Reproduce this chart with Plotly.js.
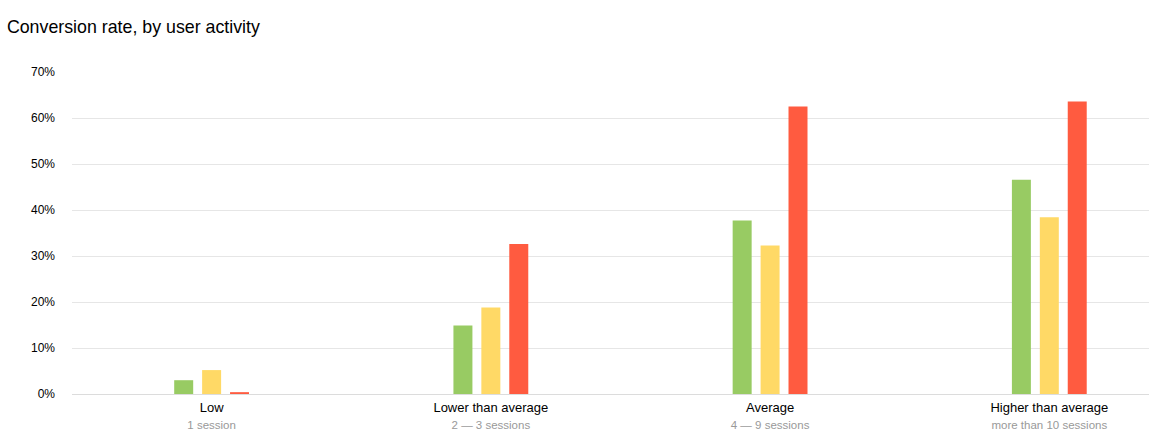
<!DOCTYPE html>
<html>
<head>
<meta charset="utf-8">
<script src="https://cdn.plot.ly/plotly-3.0.1.min.js"></script>
<style>html,body{margin:0;padding:0;background:#fff;}#chart{width:1149px;height:445px;}</style>
</head>
<body>
<div id="chart"></div>
<script>
const categories = ["Low", "Lower than average", "Average", "Higher than average"];
const subLabels = ["1 session", "2 — 3 sessions", "4 — 9 sessions", "more than 10 sessions"];
const seriesGreen = [3.0, 14.9, 37.7, 46.6];
const seriesYellow = [5.2, 18.8, 32.3, 38.4];
const seriesRed = [0.4, 32.6, 62.5, 63.6];
const yTickVals = [0, 10, 20, 30, 40, 50, 60, 70];
const yTickText = ["0%", "10%", "20%", "30%", "40%", "50%", "60%", "70%"];

const xIdx = categories.map((c, i) => i);
const tickText = categories.map((c, i) =>
  c + "<br><span style='font-size:11.5px;color:#999999'>" + subLabels[i] + "</span>");

const mk = (y, color, name) => ({
  type: "bar", x: xIdx, y: y, name: name,
  marker: {color: color, line: {width: 0}},
  hoverinfo: "y"
});

const data = [
  mk(seriesGreen, "#98CB63", "green"),
  mk(seriesYellow, "#FFD966", "yellow"),
  mk(seriesRed, "#FF5B40", "red")
];

const layout = {
  width: 1149, height: 445,
  margin: {l: 72, r: 0, t: 72, b: 51},
  paper_bgcolor: "#fff", plot_bgcolor: "#fff",
  font: {family: "Liberation Sans, Arial, Helvetica, sans-serif", color: "#000", size: 12},
  title: {text: "Conversion rate, by user activity", x: 0.006, xanchor: "left", y: 0.94, yanchor: "middle",
          font: {size: 17.8, color: "#000"}},
  showlegend: false,
  barmode: "group",
  bargap: 0.7,
  bargroupgap: 0.32,
  xaxis: {
    range: [-0.5, 3.357],
    tickvals: xIdx, ticktext: tickText,
    showgrid: false, zeroline: false, showline: false,
    ticks: "", tickfont: {size: 13, color: "#000"},
    ticklabelstandoff: 4,
    fixedrange: true
  },
  yaxis: {
    range: [0, 70],
    tickvals: yTickVals, ticktext: yTickText,
    showgrid: true, gridcolor: "#e6e6e6", gridwidth: 1,
    zeroline: true, zerolinecolor: "#dcdcdc", zerolinewidth: 1,
    showline: false, ticks: "",
    ticklabelstandoff: 16,
    tickfont: {size: 12, color: "#000"},
    fixedrange: true
  }
};

Plotly.newPlot("chart", data, layout, {displayModeBar: false, staticPlot: true});
</script>
</body>
</html>
